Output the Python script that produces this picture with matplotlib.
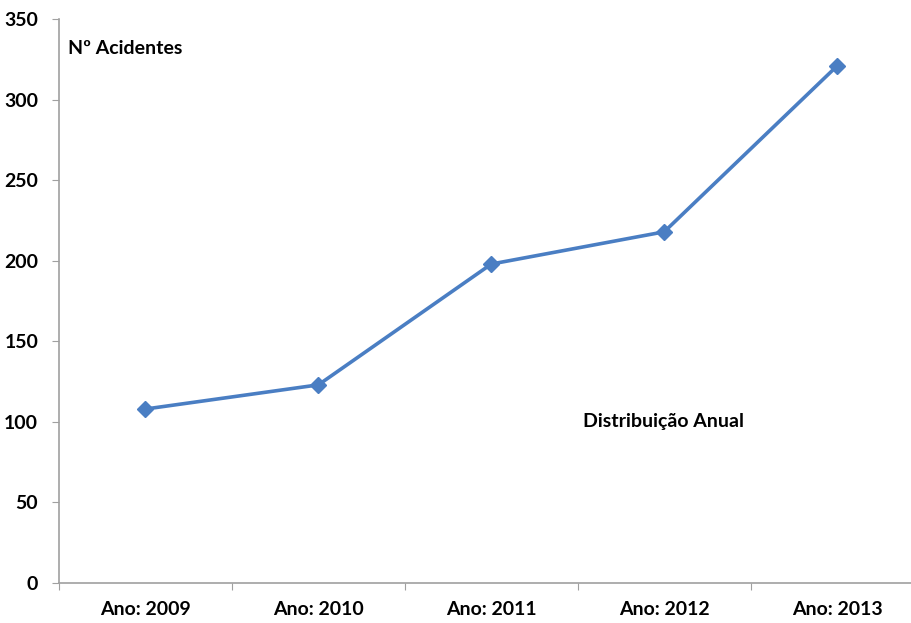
import matplotlib.pyplot as plt
from matplotlib.ticker import FixedLocator, NullFormatter

anos = ["Ano: 2009", "Ano: 2010", "Ano: 2011", "Ano: 2012", "Ano: 2013"]
acidentes = [108, 123, 198, 218, 321]
y_ticks = [0, 50, 100, 150, 200, 250, 300, 350]

plt.rcParams['font.family'] = ['Lato', 'DejaVu Sans']
plt.rcParams['font.weight'] = 'bold'

fig = plt.figure(figsize=(9.12, 6.23), dpi=100)
ax = fig.add_axes([0.0647, 0.0642, 0.948, 0.905])

x = list(range(1, len(anos) + 1))
ax.plot(x, acidentes, color='#4A7EC3', linewidth=2.6, marker='D', markersize=8,
        markeredgecolor='#4A7EC3', markerfacecolor='#4A7EC3')

ax.set_xlim(0.5, len(anos) + 0.5)
ax.set_ylim(0, 350)

# category labels centred, tick marks on the boundaries between years
ax.xaxis.set_major_locator(FixedLocator([i + 0.5 for i in range(len(anos) + 1)]))
ax.xaxis.set_major_formatter(NullFormatter())
ax.xaxis.set_minor_locator(FixedLocator(x))
ax.set_xticklabels(anos, minor=True)
ax.tick_params(axis='x', which='minor', length=0, pad=13, labelsize=14)
ax.tick_params(axis='x', which='major', length=5, color='#A0A0A0', direction='out')

ax.set_yticks(y_ticks)
ax.tick_params(axis='y', length=5, color='#A0A0A0', pad=10, labelsize=14)

for side in ['top', 'right']:
    ax.spines[side].set_visible(False)
for side in ['left', 'bottom']:
    ax.spines[side].set_color('#A0A0A0')
    ax.spines[side].set_linewidth(1.2)

ax.text(0.552, 332, "Nº Acidentes", fontsize=14, ha='left', va='center')
ax.text(3.53, 100.5, "Distribuição Anual", fontsize=14, ha='left', va='center')

fig.savefig('out.png', dpi=100)
